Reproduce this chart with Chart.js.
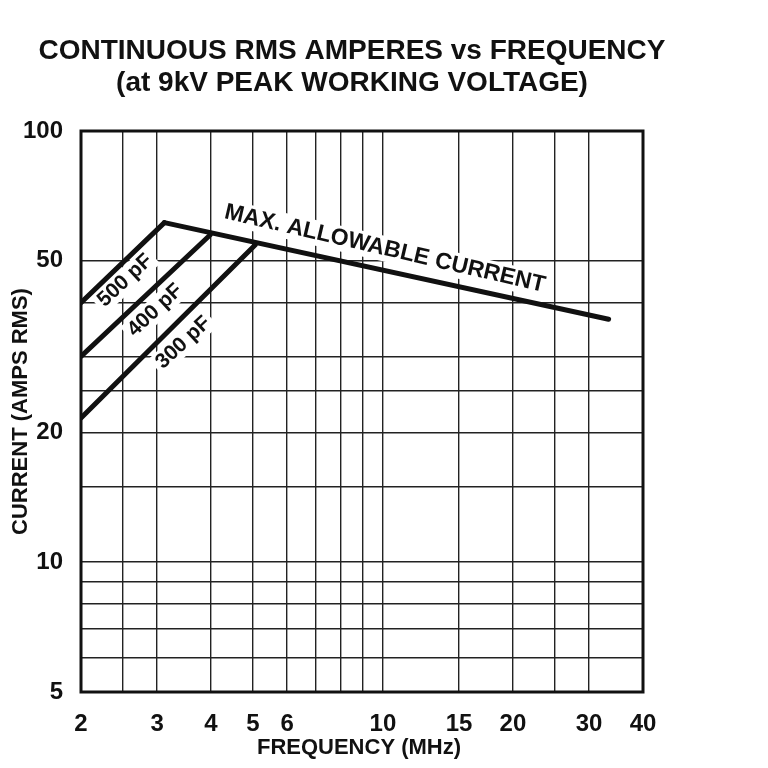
<!DOCTYPE html>
<html>
<head>
<meta charset="utf-8">
<script src="https://cdn.jsdelivr.net/npm/chart.js@4.4.1/dist/chart.umd.min.js"></script>
<style>
  html, body { margin: 0; padding: 0; background: #fff; }
  #wrap { width: 768px; height: 768px; }
</style>
</head>
<body>
<div id="wrap"><canvas id="c" width="768" height="768"></canvas></div>
<script>
// ---- data ----
const titleLines = ['CONTINUOUS RMS AMPERES vs FREQUENCY', '(at 9kV PEAK WORKING VOLTAGE)'];
const xTitle = 'FREQUENCY (MHz)';
const yTitle = 'CURRENT (AMPS RMS)';

const xGridValues = [2, 2.5, 3, 4, 5, 6, 7, 8, 9, 10, 15, 20, 25, 30, 40];
const xTickLabels = [2, 3, 4, 5, 6, 10, 15, 20, 30, 40];
const yGridValues = [5, 6, 7, 8, 9, 10, 15, 20, 25, 30, 40, 50, 100];
const yTickLabels = [5, 10, 20, 50, 100];

const maxFreq = [3.12, 33.3];
const maxCurrent = [61.3, 36.6];
const pf500Freq = [2, 3.12];
const pf500Current = [40, 61.3];
const pf400Freq = [2, 3.98];
const pf400Current = [30, 57.4];
const pf300Freq = [2, 5.06];
const pf300Current = [21.6, 54.4];

const curveLabelText = ['MAX. ALLOWABLE CURRENT', '500 pF', '400 pF', '300 pF'];
const curveLabelFreq = [10.1, 2.53, 2.97, 3.45];
const curveLabelCurrent = [53.3, 45.0, 38.4, 32.3];

// ---- styling ----
const FONT = '"Liberation Sans", Arial, Helvetica, sans-serif';
const INK = '#111';
const labelAngles = [13, -43, -43, -43];
const labelSizes = [23, 21, 21, 21];

function pts(xs, ys) { return xs.map((x, i) => ({ x: x, y: ys[i] })); }

function ds(xs, ys) {
  return {
    data: pts(xs, ys),
    borderColor: INK,
    borderWidth: 5,
    borderCapStyle: 'round',
    borderJoinStyle: 'round',
    pointRadius: 0,
    fill: false,
    tension: 0
  };
}

const decorPlugin = {
  id: 'decor',
  beforeDatasetsDraw(chart) {
    const ctx = chart.ctx;
    const xs = chart.scales.x, ys = chart.scales.y;
    curveLabelText.forEach((t, i) => {
      const px = xs.getPixelForValue(curveLabelFreq[i]);
      const py = ys.getPixelForValue(curveLabelCurrent[i]);
      const size = labelSizes[i];
      ctx.save();
      ctx.translate(px, py);
      ctx.rotate(labelAngles[i] * Math.PI / 180);
      ctx.font = 'bold ' + size + 'px ' + FONT;
      const w = ctx.measureText(t).width;
      ctx.fillStyle = '#fff';
      ctx.fillRect(-w / 2 - 4, -size * 0.55, w + 8, size * 1.1);
      ctx.fillStyle = INK;
      ctx.textAlign = 'center';
      ctx.textBaseline = 'middle';
      ctx.fillText(t, 0, 0);
      ctx.restore();
    });
  },
  afterDatasetsDraw(chart) {
    const ctx = chart.ctx, a = chart.chartArea;
    ctx.save();
    ctx.strokeStyle = INK;
    ctx.lineWidth = 3;
    ctx.strokeRect(a.left, a.top, a.right - a.left, a.bottom - a.top);
    ctx.restore();
  },
  afterDraw(chart) {
    const ctx = chart.ctx, a = chart.chartArea;
    ctx.save();
    ctx.fillStyle = INK;
    ctx.textAlign = 'center';
    ctx.textBaseline = 'middle';
    ctx.font = 'bold 28px ' + FONT;
    ctx.fillText(titleLines[0], 352, 51);
    ctx.fillText(titleLines[1], 352, 83);
    ctx.font = 'bold 22px ' + FONT;
    ctx.fillText(xTitle, (a.left + a.right) / 2 - 3, 748);
    ctx.translate(21, (a.top + a.bottom) / 2);
    ctx.rotate(-Math.PI / 2);
    ctx.fillText(yTitle, 0, 0);
    ctx.restore();
  }
};

new Chart(document.getElementById('c'), {
  type: 'line',
  data: {
    datasets: [
      ds(maxFreq, maxCurrent),
      ds(pf500Freq, pf500Current),
      ds(pf400Freq, pf400Current),
      ds(pf300Freq, pf300Current)
    ]
  },
  options: {
    responsive: false,
    animation: false,
    devicePixelRatio: 1,
    layout: { padding: { top: 131, right: 125, left: 0, bottom: 0 } },
    plugins: { legend: { display: false }, title: { display: false }, tooltip: { enabled: false } },
    scales: {
      x: {
        type: 'logarithmic',
        position: 'bottom',
        min: 2, max: 40,
        afterBuildTicks(s) { s.ticks = xGridValues.map(v => ({ value: v })); },
        afterFit(s) { s.height = 76; },
        grid: { color: '#222', lineWidth: 1.4, drawTicks: false },
        border: { display: false },
        ticks: {
          autoSkip: false, maxRotation: 0, padding: 18,
          color: INK,
          font: { family: FONT, size: 24, weight: 'bold' },
          callback(v) { return xTickLabels.includes(v) ? String(v) : ''; }
        }
      },
      y: {
        type: 'logarithmic',
        position: 'left',
        min: 5, max: 100,
        afterBuildTicks(s) { s.ticks = yGridValues.map(v => ({ value: v })); },
        afterFit(s) { s.width = 81; },
        grid: { color: '#222', lineWidth: 1.4, drawTicks: false },
        border: { display: false },
        ticks: {
          autoSkip: false, padding: 18,
          color: INK,
          font: { family: FONT, size: 24, weight: 'bold' },
          callback(v) { return yTickLabels.includes(v) ? String(v) : ''; }
        }
      }
    }
  },
  plugins: [decorPlugin]
});
</script>
</body>
</html>
